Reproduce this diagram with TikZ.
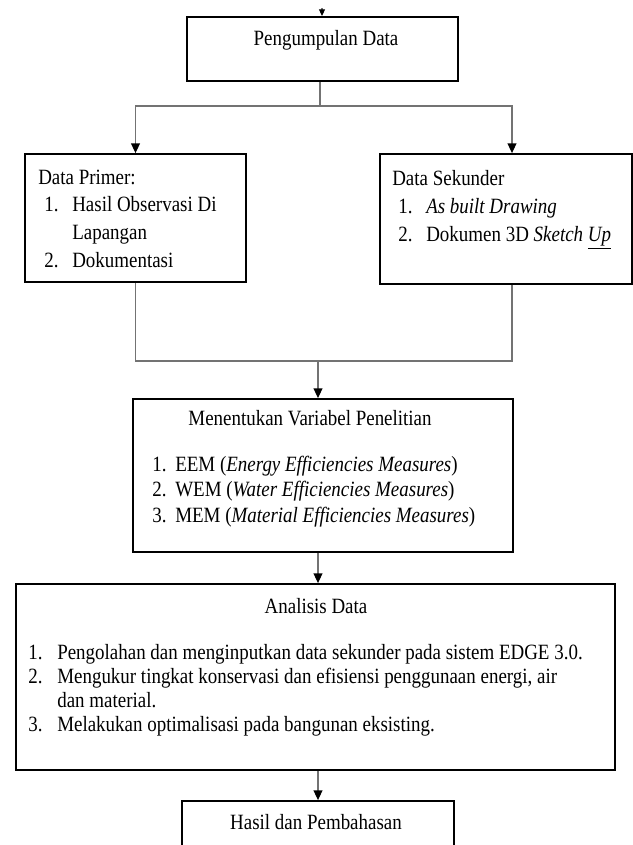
\documentclass[tikz,border=0pt]{standalone}
\usepackage{fontspec}
\setmainfont{Liberation Serif}[FakeStretch=0.87]
\usepackage{tikz}
\usetikzlibrary{positioning,arrows.meta}

\tikzset{
  box/.style={draw=black, line width=1.3pt, inner sep=0pt},
  txt/.style={anchor=base west, inner sep=0pt},
  ctxt/.style={anchor=base, inner sep=0pt},
  link/.style={draw=black!55, line width=0.75pt},
  arrow/.style={link, -{Triangle[width=0.22cm,length=0.24cm,color=black]}}
}

\begin{document}
\begin{tikzpicture}[font=\fontsize{15.5}{18}\selectfont]
  \useasboundingbox (0,0) rectangle (15.825,21.125);
  \clip (0,0) rectangle (15.825,21.125);
  % boxes
  \node[box, minimum width=6.775cm, minimum height=1.6cm] at(8.0625,19.9)(pengumpulan){};
  \node[box, minimum width=5.525cm, minimum height=3.2cm] at(3.3875,15.675)(primer){};
  \node[box, minimum width=6.3cm, minimum height=3.25cm] at(12.65,15.65)(sekunder){};
  \node[box, minimum width=9.5cm, minimum height=3.825cm] at(8.075,9.2375)(variabel){};
  \node[box, minimum width=14.975cm, minimum height=4.65cm] at(7.8875,4.2)(analisis){};
  \node[box, minimum width=6.8cm, minimum height=2cm] at(7.95,0.1)(hasil){};
  % texts
  \node[ctxt] at(8.15,19.975)(t1){Pengumpulan Data};
  \node[txt] at(0.95,16.5)(t2){Data Primer:};
  \node[txt] at(1.1,15.825)(n21){1.};
  \node[txt] at(1.8,15.825)(t21){Hasil Observasi Di};
  \node[txt] at(1.8,15.125)(t22){Lapangan};
  \node[txt] at(1.1,14.425)(n23){2.};
  \node[txt] at(1.8,14.425)(t23){Dokumentasi};
  \node[txt] at(9.8,16.475)(t3){Data Sekunder};
  \node[txt] at(9.95,15.775)(n31){1.};
  \node[txt] at(10.65,15.775)(t31){\textit{As built Drawing}};
  \node[txt] at(9.95,15.075)(n32){2.};
  \node[txt] at(10.65,15.075)(t32){Dokumen 3D \textit{Sketch} \underline{\textit{Up}}};
  \node[ctxt] at(7.75,10.475)(t4){Menentukan Variabel Penelitian};
  \node[txt] at(3.8,9.325)(n41){1.};
  \node[txt] at(4.375,9.325)(t41){EEM (\textit{Energy Efficiencies Measures})};
  \node[txt] at(3.8,8.7)(n42){2.};
  \node[txt] at(4.375,8.7)(t42){WEM (\textit{Water Efficiencies Measures})};
  \node[txt] at(3.8,8.05)(n43){3.};
  \node[txt] at(4.375,8.05)(t43){MEM (\textit{Material Efficiencies Measures})};
  \node[ctxt] at(7.9,5.775)(t5){Analisis Data};
  \node[txt] at(0.7,4.625)(n51){1.};
  \node[txt] at(1.425,4.625)(t51){Pengolahan dan menginputkan data sekunder pada sistem EDGE 3.0.};
  \node[txt] at(0.7,4.025)(n52){2.};
  \node[txt] at(1.425,4.025)(t52){Mengukur tingkat konservasi dan efisiensi penggunaan energi, air};
  \node[txt] at(1.425,3.425)(t53){dan material.};
  \node[txt] at(0.7,2.825)(n54){3.};
  \node[txt] at(1.425,2.825)(t54){Melakukan optimalisasi pada bangunan eksisting.};
  \node[ctxt] at(7.9,0.375)(t6){Hasil dan Pembahasan};
  % connectors
  \coordinate (entry) at(8.05,20.925);
  \coordinate (fork) at(8.0,18.475);
  \coordinate (join) at(7.95,12.1);
  \draw[link, -{Triangle[width=0.15cm,length=0.17cm,color=black]}] (entry) -- (entry |- pengumpulan.north);
  \draw[link] (fork |- pengumpulan.south) -- (fork);
  \draw[arrow] (fork) -| (primer.north);
  \draw[arrow] (fork) -| ([xshift=0.15cm]sekunder.north);
  \draw[link] (primer.south) |- (join);
  \draw[link] ([xshift=0.15cm]sekunder.south) |- (join);
  \draw[arrow] (join) -- (join |- variabel.north);
  \draw[arrow] (join |- variabel.south) -- (join |- analisis.north);
  \draw[arrow] (join |- analisis.south) -- (join |- hasil.north);
\end{tikzpicture}
\end{document}
